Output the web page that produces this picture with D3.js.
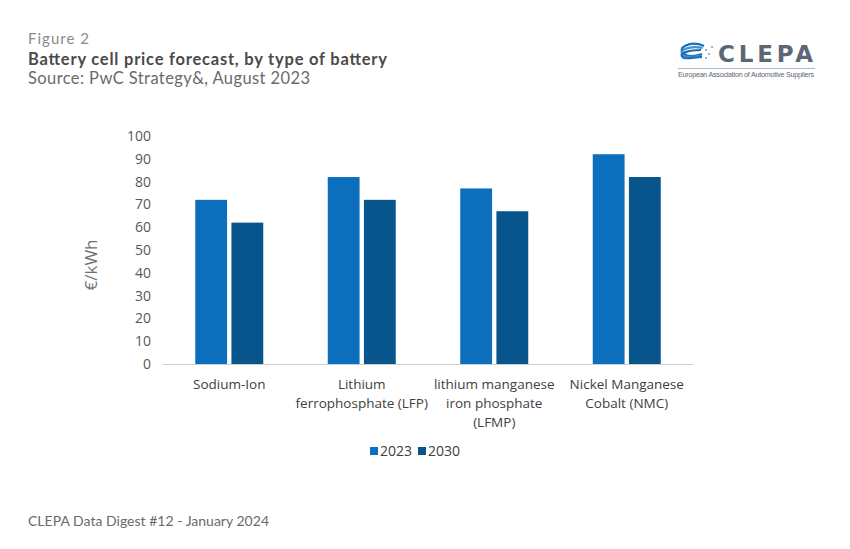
<!DOCTYPE html>
<html><head><meta charset="utf-8">
<script src="https://cdn.jsdelivr.net/npm/d3@7"></script>
<style>body{margin:0;background:#fff}svg{display:block}</style>
</head><body><svg id="c" width="850" height="549"></svg>
<script>
const categories = [["Sodium-Ion"],["Lithium","ferrophosphate (LFP)"],["lithium manganese","iron phosphate","(LFMP)"],["Nickel Manganese","Cobalt (NMC)"]];
const seriesNames = ["2023","2030"];
const values2023 = [72,82,77,92];
const values2030 = [62,72,67,82];
const yTicks = [0,10,20,30,40,50,60,70,80,90,100];
const colors = ["#0B6FBD","#08548C"];

(function(){
const svg = d3.select("#c");
const pLeft=163, pRight=693, pTop=136, pBottom=364;
const x0 = d3.scaleBand().domain(d3.range(categories.length)).range([pLeft,pRight]);
const x1 = d3.scaleBand().domain(seriesNames).range([0,68]).paddingInner(0.12);
const y = d3.scaleLinear().domain([0,100]).range([pBottom,pTop]);

// header
const hf = "Lato, sans-serif";
svg.append("text").attr("x",28).attr("y",44).attr("font-family",hf).attr("font-size",15).attr("textLength",61).attr("fill","#8a8a8a").text("Figure 2");
svg.append("text").attr("x",28).attr("y",65).attr("font-family",hf).attr("font-weight","bold").attr("font-size",16.5).attr("textLength",359).attr("fill","#4a4a4a").text("Battery cell price forecast, by type of battery");
svg.append("text").attr("x",28).attr("y",84).attr("font-family",hf).attr("font-size",16.5).attr("textLength",282).attr("fill","#6a6a6a").text("Source: PwC Strategy&, August 2023");
svg.append("text").attr("x",28).attr("y",526).attr("font-family",hf).attr("font-size",14).attr("textLength",241).attr("fill","#6a6a6a").text("CLEPA Data Digest #12 - January 2024");

// logo
const lg = svg.append("g");
lg.append("text").attr("x",718).attr("y",62).attr("font-family","'DejaVu Sans', sans-serif").attr("font-weight","bold").attr("font-size",23).attr("textLength",95).attr("fill","#5b6774").text("CLEPA");
[[0,"#1a6fb5"],[5,"#3f8fd0"],[10,"#1a6fb5"]].forEach(([d,c])=>{
  lg.append("path").attr("d",`M${704-d*0.3},${46+d*0.4} C${690},${40+d} ${676},${48+d*0.5} ${684},${54+d*0.4} C${688},${57+d*0.2} ${696},${56+d*0.1} ${702},${54+d*0.3}`).attr("fill","none").attr("stroke",c).attr("stroke-width",2.2);
});
[[706,50],[709,54],[706,58],[712,47]].forEach(([cx,cy])=>lg.append("circle").attr("cx",cx).attr("cy",cy).attr("r",1).attr("fill","#8a9aaa"));
lg.append("line").attr("x1",678).attr("x2",815).attr("y1",68.5).attr("y2",68.5).attr("stroke","#9aa3ad").attr("stroke-width",0.8);
lg.append("text").attr("x",678).attr("y",77).attr("font-family","'Liberation Sans', sans-serif").attr("font-size",7.2).attr("textLength",136).attr("fill","#5b6774").text("European Association of Automotive Suppliers");

// y axis
const yAxis = svg.append("g").attr("transform",`translate(${pLeft},0)`)
  .call(d3.axisLeft(y).tickValues(yTicks).tickSize(0).tickPadding(12));
yAxis.select(".domain").remove();
yAxis.selectAll("text").attr("font-family","'Open Sans', sans-serif").attr("font-size",14).attr("fill","#595959");

svg.append("text").attr("transform",`translate(97,265) rotate(-90)`).attr("text-anchor","middle")
  .attr("font-family","'Open Sans', sans-serif").attr("font-size",17).attr("fill","#707070").text("€/kWh");

// bars
const data = categories.map((c,i)=>({i, vals:[values2023[i],values2030[i]]}));
const g = svg.append("g");
data.forEach(d=>{
  const cx = x0(d.i)+x0.bandwidth()/2 - 34;
  d.vals.forEach((v,k)=>{
    g.append("rect").attr("x",cx+x1(seriesNames[k])).attr("y",y(v))
      .attr("width",x1.bandwidth()).attr("height",y(0)-y(v)).attr("fill",colors[k]);
  });
});

// x axis baseline
svg.append("line").attr("x1",pLeft).attr("x2",pRight).attr("y1",y(0)+0.5).attr("y2",y(0)+0.5).attr("stroke","#d0d0d0").attr("stroke-width",1);

// category labels
categories.forEach((lines,i)=>{
  const t = svg.append("text").attr("text-anchor","middle").attr("font-family","'Open Sans', sans-serif").attr("font-size",13.5).attr("fill","#404040");
  lines.forEach((l,j)=>t.append("tspan").attr("x",x0(i)+x0.bandwidth()/2).attr("y",389+j*19).text(l));
});

// legend
const legX=[370,418];
seriesNames.forEach((s,k)=>{
  svg.append("rect").attr("x",legX[k]).attr("y",447).attr("width",8).attr("height",8).attr("fill",colors[k]);
  svg.append("text").attr("x",legX[k]+10).attr("y",456).attr("font-family","'Open Sans', sans-serif").attr("font-size",14).attr("fill","#404040").text(s);
});
})();
</script></body></html>
